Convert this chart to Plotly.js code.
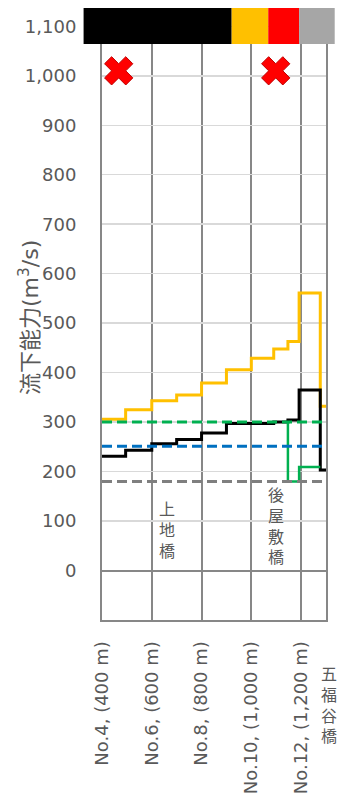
<!DOCTYPE html>
<html>
<head>
<meta charset="utf-8">
<script src="https://cdn.plot.ly/plotly-3.0.1.min.js"></script>
<style>
  html, body { margin: 0; padding: 0; background: #ffffff; }
  #chart { width: 338px; height: 798px; }
</style>
</head>
<body>
<div id="chart"></div>
<script>
// Survey stations along the river (distance in metres) and their labels
const stationPos = [400, 600, 800, 1000, 1200];
const stationLabels = ['No.4, (400 m)', 'No.6, (600 m)', 'No.8, (800 m)', 'No.10, (1,000 m)', 'No.12, (1,200 m)'];
const endPos = 1300;
const endLabel = '五<br>福<br>谷<br>橋';

// Section boundaries (m) shared by the stepped capacity lines
const sectionEdges = [400, 495, 600, 700, 800, 900, 1000, 1090, 1147, 1192, 1277, 1300];
// Flow capacity per section (m3/s)
const capacityYellow = [306, 325, 343, 355, 379, 406, 429, 448, 463, 561, 332];
const capacityBlack = [231, 243, 256, 265, 278, 297, 297, 300, 304, 365, 203];

// Local capacity drop near 後屋敷橋
const greenX = [1147, 1147, 1192, 1277];
const greenY = [300, 180, 209, 209];

// Reference discharge levels (m3/s)
const levelGreen = 300;
const levelBlue = 251;
const levelGray = 180;

// Cross marks
const markX = [467, 1098];
const markY = [1010, 1010];

// Bridges
const bridgeNames = ['上<br>地<br>橋', '後<br>屋<br>敷<br>橋'];
const bridgeX = [663, 1099];
const bridgeY = [84, 92];

// Y ticks
const yTicks = [0, 100, 200, 300, 400, 500, 600, 700, 800, 900, 1000, 1100];

// Colour band along the top (segment edges in metres)
const bandEdges = [326, 921, 1068, 1192, 1335];
const bandColors = ['#000000', '#FFC000', '#FF0000', '#A6A6A6'];
const bandLow = 1064;
const bandHigh = 1137;

const xRange = [400, 1300];
const yRange = [-100, 1137];

const grayText = '#595959';
const darkGrid = '#878787';

function stepY(vals) { return vals.concat([vals[vals.length - 1]]); }
function toPaperX(m) { return (m - xRange[0]) / (xRange[1] - xRange[0]); }

const traces = [
  {
    name: 'capacityYellow', x: sectionEdges, y: stepY(capacityYellow),
    mode: 'lines', line: {color: '#FFC000', width: 3, shape: 'hv'}, hoverinfo: 'skip'
  },
  {
    name: 'capacityBlack', x: sectionEdges, y: stepY(capacityBlack),
    mode: 'lines', line: {color: '#000000', width: 3, shape: 'hv'}, hoverinfo: 'skip'
  },
  {
    name: 'capacityGreen', x: greenX, y: greenY,
    mode: 'lines', line: {color: '#00B050', width: 2.5, shape: 'hv'}, hoverinfo: 'skip'
  },
  {
    name: 'levelGray', x: xRange, y: [levelGray, levelGray],
    mode: 'lines', line: {color: '#7F7F7F', width: 3, dash: '10px,5px'}, hoverinfo: 'skip'
  },
  {
    name: 'levelBlue', x: xRange, y: [levelBlue, levelBlue],
    mode: 'lines', line: {color: '#0070C0', width: 3, dash: '10px,5px'}, hoverinfo: 'skip'
  },
  {
    name: 'levelGreen', x: xRange, y: [levelGreen, levelGreen],
    mode: 'lines', line: {color: '#00B050', width: 3, dash: '10px,5px'}, hoverinfo: 'skip'
  },
  {
    name: 'marks', x: markX, y: markY, mode: 'markers', cliponaxis: false,
    marker: {symbol: 'x', size: 25, color: '#FF0000', line: {color: '#C00000', width: 1}},
    hoverinfo: 'skip'
  }
];

const shapes = bandColors.map((c, i) => ({
  type: 'rect', xref: 'paper', yref: 'y',
  x0: toPaperX(bandEdges[i]), x1: toPaperX(bandEdges[i + 1]),
  y0: bandLow, y1: bandHigh,
  fillcolor: c, line: {width: 0}, layer: 'above'
}));

const cjkFont = 'Noto Sans CJK JP, sans-serif';

const annotations = [
  {
    xref: 'paper', yref: 'paper', x: -0.326, y: 0.495,
    xanchor: 'center', yanchor: 'middle', showarrow: false, textangle: -90,
    text: '流下能力(m<sup>3</sup>/s)',
    font: {family: 'DejaVu Sans, Noto Sans CJK JP', size: 22, color: grayText}
  },
  {
    xref: 'x', yref: 'paper', x: endPos, y: -0.137, xshift: 3,
    xanchor: 'center', yanchor: 'middle', showarrow: false,
    text: endLabel, font: {family: cjkFont, size: 16, color: grayText}
  }
].concat(bridgeNames.map((t, i) => ({
  xref: 'x', yref: 'y', x: bridgeX[i], y: bridgeY[i],
  xanchor: 'center', yanchor: 'middle', showarrow: false,
  text: t, font: {family: cjkFont, size: 16, color: grayText}
})));

const layout = {
  width: 338, height: 798,
  margin: {l: 102, r: 12, t: 8, b: 178, pad: 0},
  paper_bgcolor: '#ffffff', plot_bgcolor: '#ffffff',
  showlegend: false,
  xaxis: {
    range: xRange, tickvals: stationPos, ticktext: stationLabels,
    tickangle: -90, ticks: '', ticklabelstandoff: 12,
    tickfont: {family: 'DejaVu Sans', size: 18, color: grayText},
    showgrid: true, gridcolor: darkGrid, gridwidth: 2,
    showline: true, linecolor: darkGrid, linewidth: 2,
    zeroline: false, fixedrange: true
  },
  yaxis: {
    range: yRange, tickvals: yTicks, tickformat: ',d', ticks: '',
    ticklabelstandoff: 20,
    tickfont: {family: 'DejaVu Sans', size: 18, color: grayText},
    showgrid: true, gridcolor: '#D9D9D9', gridwidth: 1.5,
    zeroline: true, zerolinecolor: darkGrid, zerolinewidth: 2,
    showline: true, mirror: true, linecolor: darkGrid, linewidth: 2,
    fixedrange: true
  },
  shapes: shapes,
  annotations: annotations
};

Plotly.newPlot('chart', traces, layout, {displayModeBar: false, staticPlot: true});
</script>
</body>
</html>
